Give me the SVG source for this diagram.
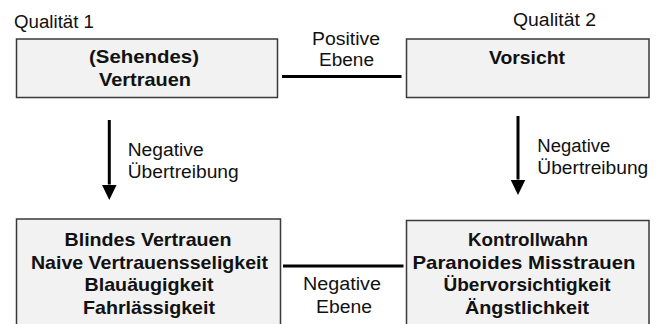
<svg xmlns="http://www.w3.org/2000/svg" width="665" height="324" viewBox="0 0 665 324">
  <style>
    .box { fill: #f2f2f2; stroke: #3a3a3a; stroke-width: 1.5; }
    .t { font-family: "Liberation Sans", Arial, sans-serif; font-size: 18px; fill: #111; }
    .b { font-family: "Liberation Sans", Arial, sans-serif; font-size: 18.5px; font-weight: bold; fill: #111; text-anchor: middle; }
    .c { text-anchor: middle; }
    .edge { stroke: #000; stroke-width: 3; fill: none; }
  </style>
  <defs>
    <marker id="arrow" markerUnits="userSpaceOnUse" markerWidth="16" markerHeight="16" refX="0" refY="7.5" orient="auto">
      <path d="M0,0 L15.5,7.5 L0,15 z" fill="#000"/>
    </marker>
  </defs>
  <rect width="665" height="324" fill="#fff"/>

  <text class="t" x="14" y="27.5" textLength="80" lengthAdjust="spacingAndGlyphs">Qualität 1</text>
  <text class="t" x="513" y="26" textLength="83" lengthAdjust="spacingAndGlyphs">Qualität 2</text>

  <g id="node-vertrauen">
    <rect class="box" x="16.5" y="39" width="261" height="58.5"/>
    <text class="b" x="144" y="63" textLength="110" lengthAdjust="spacingAndGlyphs">(Sehendes)</text>
    <text class="b" x="145" y="86" textLength="92" lengthAdjust="spacingAndGlyphs">Vertrauen</text>
  </g>

  <g id="node-vorsicht">
    <rect class="box" x="406.5" y="39" width="242.5" height="58.5"/>
    <text class="b" x="527" y="64" textLength="76" lengthAdjust="spacingAndGlyphs">Vorsicht</text>
  </g>

  <g id="node-blindes">
    <rect class="box" x="16.5" y="219" width="264" height="120"/>
    <text class="b" x="148" y="246" textLength="167" lengthAdjust="spacingAndGlyphs">Blindes Vertrauen</text>
    <text class="b" x="149.5" y="268.5" textLength="237" lengthAdjust="spacingAndGlyphs">Naive Vertrauensseligkeit</text>
    <text class="b" x="149" y="291" textLength="129" lengthAdjust="spacingAndGlyphs">Blauäugigkeit</text>
    <text class="b" x="149" y="314" textLength="132" lengthAdjust="spacingAndGlyphs">Fahrlässigkeit</text>
  </g>

  <g id="node-kontrollwahn">
    <rect class="box" x="406.5" y="220.5" width="242.5" height="120"/>
    <text class="b" x="528" y="246" textLength="120" lengthAdjust="spacingAndGlyphs">Kontrollwahn</text>
    <text class="b" x="524" y="268.5" textLength="223" lengthAdjust="spacingAndGlyphs">Paranoides Misstrauen</text>
    <text class="b" x="527" y="291" textLength="167" lengthAdjust="spacingAndGlyphs">Übervorsichtigkeit</text>
    <text class="b" x="527" y="314" textLength="124" lengthAdjust="spacingAndGlyphs">Ängstlichkeit</text>
  </g>

  <g id="connectors">
    <line class="edge" x1="282" y1="76.5" x2="401.5" y2="76.5"/>
    <line class="edge" x1="283" y1="266" x2="403.5" y2="266"/>
    <line class="edge" x1="109.3" y1="120" x2="109.3" y2="184.5" marker-end="url(#arrow)"/>
    <line class="edge" x1="518" y1="116" x2="518" y2="179.5" marker-end="url(#arrow)"/>

    <text class="t c" x="346" y="45" textLength="68" lengthAdjust="spacingAndGlyphs">Positive</text>
    <text class="t c" x="346.5" y="66" textLength="55" lengthAdjust="spacingAndGlyphs">Ebene</text>
    <text class="t c" x="342" y="290" textLength="78" lengthAdjust="spacingAndGlyphs">Negative</text>
    <text class="t c" x="344" y="313" textLength="56" lengthAdjust="spacingAndGlyphs">Ebene</text>
    <text class="t" x="127.7" y="156" textLength="76" lengthAdjust="spacingAndGlyphs">Negative</text>
    <text class="t" x="127.7" y="178" textLength="111" lengthAdjust="spacingAndGlyphs">Übertreibung</text>
    <text class="t" x="537.3" y="152" textLength="73" lengthAdjust="spacingAndGlyphs">Negative</text>
    <text class="t" x="537.3" y="174" textLength="111" lengthAdjust="spacingAndGlyphs">Übertreibung</text>
  </g>
</svg>
